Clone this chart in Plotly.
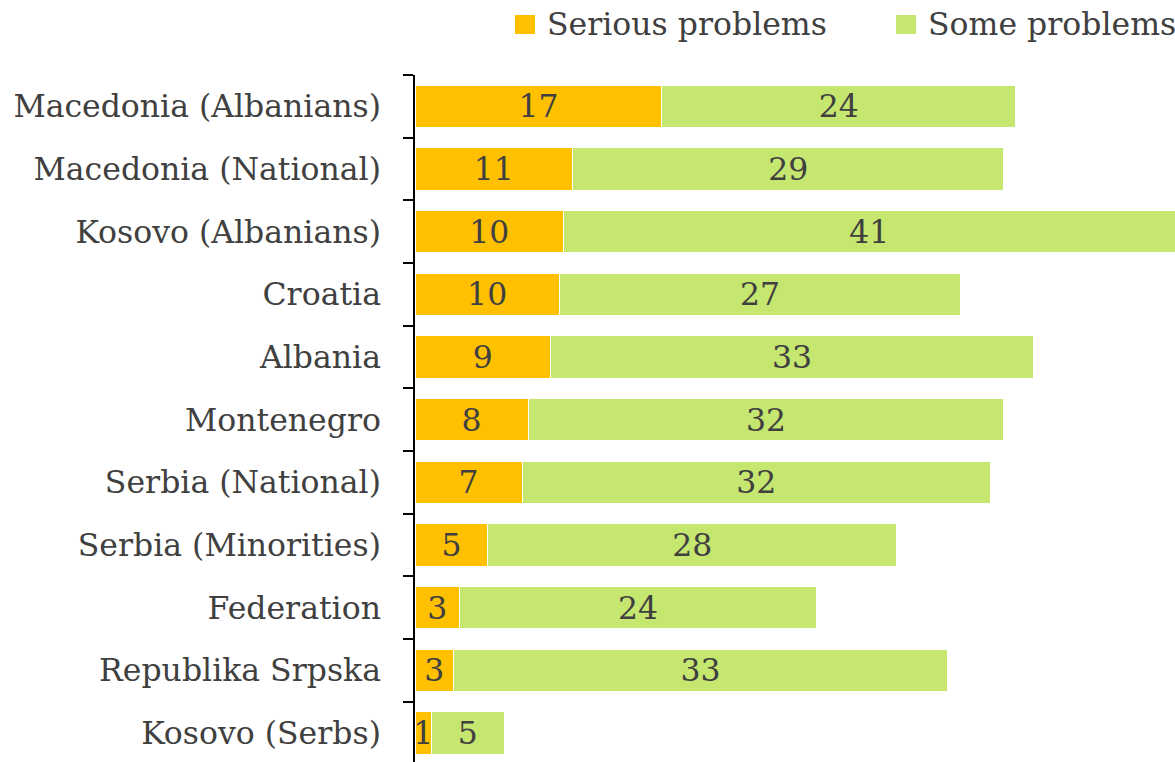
import plotly.graph_objects as go

categories = ["Macedonia (Albanians)", "Macedonia (National)", "Kosovo (Albanians)", "Croatia",
              "Albania", "Montenegro", "Serbia (National)", "Serbia (Minorities)", "Federation",
              "Republika Srpska", "Kosovo (Serbs)"]
serious = [16.6, 10.6, 10.0, 9.7, 9.1, 7.6, 7.2, 4.9, 3.0, 2.6, 1.1]
some = [23.8, 29.0, 41.1, 27.0, 32.5, 32.0, 31.5, 27.5, 24.0, 33.2, 4.9]
series_names = ["Serious problems", "Some problems"]
colors = ["#FFC000", "#C5E66F"]

# bottom-to-top order for plotting
cats = categories[::-1]
ser = serious[::-1]
som = some[::-1]

FONT = "DejaVu Serif"
TXT = "#404040"
FS = 31.5

W, H = 1175, 762
ML, MR, MT, MB = 415, 0, 75, 0
PW, PH = W - ML - MR, H - MT - MB


def px_x(px):
    return (px - ML) / PW


def px_y(py):
    return (H - MB - py) / PH


fig = go.Figure()
for name, vals, col in zip(series_names, [ser, som], colors):
    fig.add_trace(go.Bar(
        y=cats, x=vals, orientation="h", name=name,
        marker=dict(color=col, line=dict(color="white", width=1)),
        texttemplate="%{x:.0f}", textposition="inside", insidetextanchor="middle",
        textangle=0, constraintext="none",
        textfont=dict(family=FONT, size=FS, color=TXT),
        showlegend=False,
    ))

# manual legend (squares + labels) placed above the plot
leg_sq_x = [515, 896]
leg_tx_x = [545, 926]
shapes, annots = [], []
for name, col, sx, tx in zip(series_names, colors, leg_sq_x, leg_tx_x):
    shapes.append(dict(type="rect", xref="paper", yref="paper",
                       x0=px_x(sx), x1=px_x(sx + 20), y0=px_y(34), y1=px_y(15),
                       fillcolor=col, line=dict(width=0)))
    annots.append(dict(text=name, xref="paper", yref="paper", x=px_x(tx), y=px_y(24),
                       xanchor="left", yanchor="middle", showarrow=False,
                       font=dict(family=FONT, size=FS, color=TXT)))

fig.update_layout(
    barmode="stack", bargap=0.32,
    width=W, height=H,
    margin=dict(l=ML, r=MR, t=MT, b=MB),
    plot_bgcolor="white", paper_bgcolor="white",
    font=dict(family=FONT, size=FS, color=TXT),
    shapes=shapes, annotations=annots,
    showlegend=False,
    uniformtext=dict(mode=False),
)
fig.update_xaxes(range=[0, 51.1], visible=False)
fig.update_yaxes(
    type="category", categoryorder="array", categoryarray=cats,
    range=[-0.463, 10.5],
    showline=True, linecolor="black", linewidth=1.5,
    ticks="outside", ticklen=10, tickcolor="black", tickwidth=1.5,
    tickson="boundaries", ticklabelstandoff=26,
    tickfont=dict(family=FONT, size=FS, color=TXT),
    showgrid=False,
)
fig.write_html("out.html", config={"displayModeBar": False},
               post_script="document.body.style.margin='0';document.body.style.overflow='hidden';")
